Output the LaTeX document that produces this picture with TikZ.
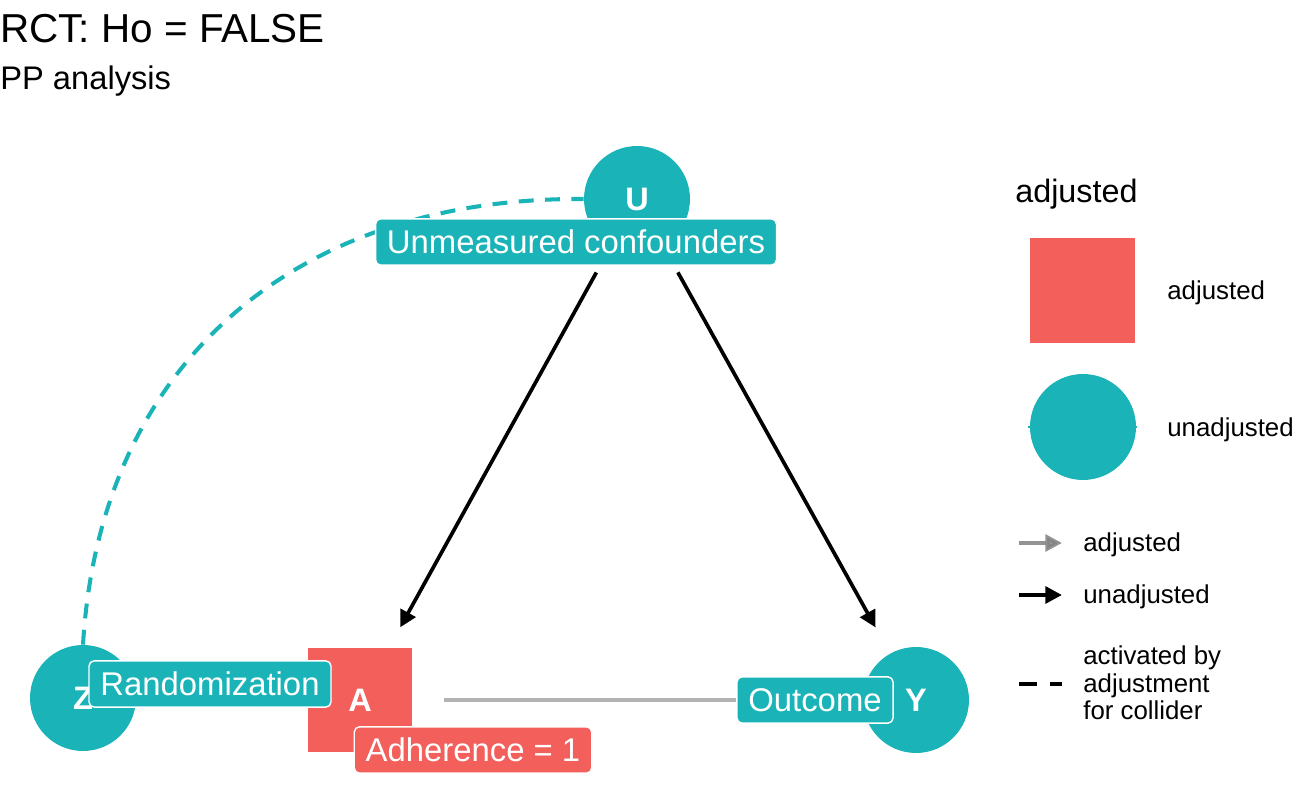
\documentclass[tikz,border=0pt]{standalone}
\usepackage{fontspec}
\setmainfont{Liberation Sans}
\usetikzlibrary{arrows.meta, positioning, calc}
\definecolor{dagteal}{HTML}{1AB4B8}
\definecolor{dagred}{HTML}{F35F5B}
\definecolor{edgegray}{HTML}{B3B3B3}

\begin{document}
\begin{tikzpicture}[
  x=0.02cm, y=-0.02cm,
  >={Triangle[length=9.5pt, width=9.5pt]},
  dagcirc/.style={
    circle, fill=dagteal, minimum size=2.12cm, inner sep=0pt,
    text=white, font=\fontsize{18.5}{19}\selectfont\bfseries
  },
  dagsq/.style={
    rectangle, fill=dagred, minimum size=2.1cm, inner sep=0pt,
    text=white, font=\fontsize{18.5}{19}\selectfont\bfseries
  },
  lab/.style={
    fill=#1, draw=white, line width=0.8pt, rounded corners=3pt,
    text=white, font=\fontsize{18.7}{20}\selectfont,
    text height=13.4pt, text depth=0pt, inner xsep=6.5pt, inner ysep=6.5pt
  },
  arr/.style={->, line width=2.1pt, black, shorten <=1.68cm, shorten >=1.66cm},
  adjarr/.style={arr, edgegray},
  collider/.style={dagteal, line width=2.3pt, dash pattern=on 8.5pt off 6.5pt},
  legtxt/.style={anchor=base west, inner sep=0pt, font=\fontsize{14.7}{16}\selectfont},
]

% Frame
\useasboundingbox (0,0) rectangle (1296,800);

% Title
\node[anchor=base west, inner sep=0pt, font=\fontsize{23}{25}\selectfont]
  (title) at (0,43) {RCT: Ho = FALSE};
\node[anchor=base west, inner sep=0pt, font=\fontsize{18.6}{20}\selectfont]
  (subtitle) at (0,90) {PP analysis};

% ---- DAG nodes ----
\node[dagcirc] (U) at (637,199) {U};
\node[dagcirc] (Z) at (83,698) {Z};
\node[dagsq]   (A) at (360,700) {A};
\node[dagcirc] (Y) at (916,700) {Y};

% ---- Edges ----
\draw[arr] (U.center) -- (A.center);
\draw[arr] (U.center) -- (Y.center);
\draw[arr] (Z.center) -- (A.center);
\draw[adjarr] (A.center) -- (Y.center);

% collider path Z -- U
\draw[collider] (Z.north) .. controls +(17,-285) and +(-284,-2) .. (U.west);

% ---- Labels ----
\node[lab=dagteal] (Ulab) at (576,242) {Unmeasured confounders};
\node[lab=dagteal] (Zlab) at (210,684) {Randomization};
\node[lab=dagred]  (Alab) at (473,750) {Adherence = 1};
\node[lab=dagteal] (Ylab) at (815,700) {Outcome};

% ---- Legend: nodes ----
\node[anchor=base west, inner sep=0pt, font=\fontsize{18.4}{20}\selectfont]
  (legtitle) at (1015,203) {adjusted};

\node[dagsq] (keyadj) at (1082.5,290.5) {};
\node[legtxt] (keyadjtxt) at (1167,300) {adjusted};

\coordinate (keylineL) at (1028,427);
\coordinate (keylineR) at (1137,427);
\draw[dagteal, line width=1.2pt] (keylineL) -- (keylineR);
\node[dagcirc] (keyunadj) at (1083,427) {};
\node[legtxt] (keyunadjtxt) at (1167,437) {unadjusted};

% ---- Legend: edges ----
\coordinate (k1a) at (1019,543);
\coordinate (k1b) at (1062,543);
\draw[->, line width=2.3pt, black!50, opacity=0.85] (k1a) -- (k1b);
\node[legtxt] (k1txt) at (1083,552) {adjusted};

\coordinate (k2a) at (1019,595);
\coordinate (k2b) at (1062,595);
\draw[->, line width=2.3pt, black] (k2a) -- (k2b);
\node[legtxt] (k2txt) at (1083,603) {unadjusted};

\coordinate (k3a) at (1019,684);
\coordinate (k3b) at (1062,684);
\draw[black, line width=2.3pt, dash pattern=on 10pt off 7.4pt] (k3a) -- (k3b);
\node[legtxt] (k3txt1) at (1083,664) {activated by};
\node[legtxt] (k3txt2) at (1083,692) {adjustment};
\node[legtxt] (k3txt3) at (1083,720) {for collider};

\end{tikzpicture}
\end{document}
